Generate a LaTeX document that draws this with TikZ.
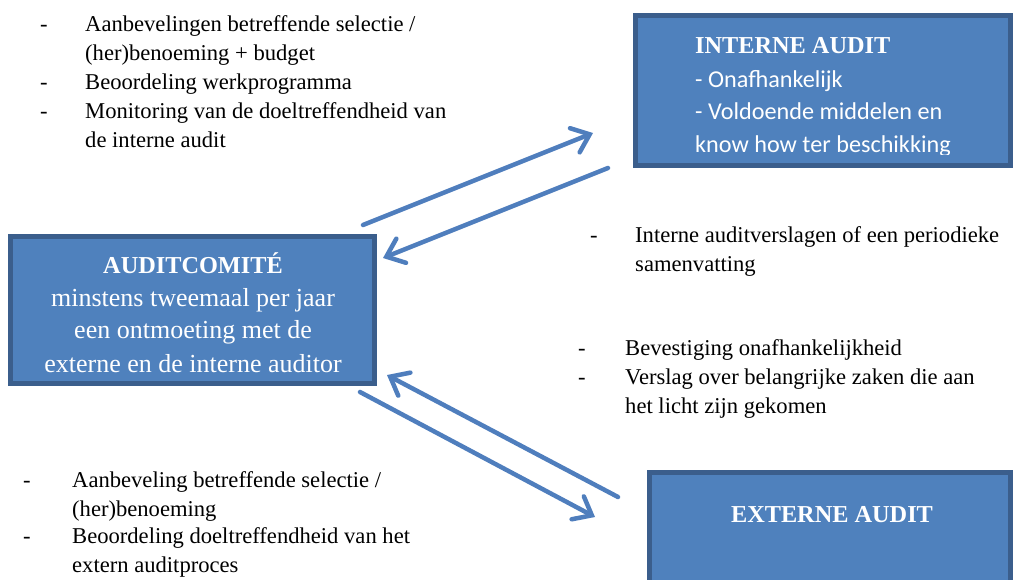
\documentclass[tikz,border=0pt]{standalone}
\usepackage{fontspec}
\setmainfont{Liberation Serif}
\newfontfamily\calfont{Carlito}
\usetikzlibrary{arrows.meta,positioning,calc}
\definecolor{boxfill}{HTML}{4F81BD}
\definecolor{boxline}{HTML}{3B5E8C}
\definecolor{arrowblue}{HTML}{4F7EBD}
\newcommand\lstfont{\fontsize{22.6}{29}\selectfont}
\newcommand\boxtxt{\fontsize{26}{33}\selectfont}
\newcommand\titletxt{\fontsize{24.3}{30}\selectfont\bfseries}
\newcommand\caltxt{\calfont\fontsize{24.2}{32}\selectfont}
\tikzset{
  block/.style={rectangle,draw=boxline,fill=boxfill,line width=5pt,inner sep=0pt},
  boxtitle/.style={inner sep=0pt,text=white,font=\titletxt},
  boxtext/.style={inner sep=0pt,text=white,font=\boxtxt,align=center},
  hyph/.style={anchor=base west,inner sep=0pt,font=\lstfont},
  lst/.style={anchor=base west,inner sep=0pt,font=\lstfont,align=left},
  flow/.style={draw=arrowblue,line width=4.5pt,line cap=round,
    -{Straight Barb[length=16pt,width=26pt,line cap=round]}}
}
\begin{document}
\begin{tikzpicture}[x=1pt,y=-1pt]
  \useasboundingbox (0,0) rectangle (1014,579);

  % blocks
  \node[block,minimum width=364pt,minimum height=147pt] (ac) at (192.5,310) {};
  \node[block,minimum width=375pt,minimum height=150pt] (ia) at (823,90.5) {};
  \node[block,minimum width=361pt,minimum height=125pt] (ea) at (830,535) {};

  % auditcomite
  \node[boxtitle,anchor=base] (act) at (193,273) {AUDITCOMITÉ};
  \node[boxtext,anchor=base] (ac1) at (193,306) {minstens tweemaal per jaar};
  \node[boxtext,anchor=base] (ac2) at (193,338) {een ontmoeting met de};
  \node[boxtext,anchor=base] (ac3) at (193,372) {externe en de interne auditor};

  % interne audit
  \node[boxtitle,anchor=base west] (iat) at (695,53) {INTERNE AUDIT};
  \node[boxtext,anchor=base west,font=\caltxt] (ia1) at (695,87) {- Onafhankelijk};
  \node[boxtext,anchor=base west,font=\caltxt] (ia2) at (695,119) {- Voldoende middelen en};
  \begin{scope}
    \clip (640,20) rectangle (1005,154);
    \node[boxtext,anchor=base west,font=\caltxt] (ia3) at (695,152) {know how ter beschikking};
  \end{scope}

  % externe audit
  \node[boxtitle,anchor=base] (eat) at (832,522) {EXTERNE AUDIT};

  % lists (base = last line)
  \node[hyph] (d1) at (40,31) {-};
  \node[lst] (t1) at (85,60) {Aanbevelingen betreffende selectie /\\(her)benoeming + budget};
  \node[hyph] (d2) at (40,89) {-};
  \node[lst] (t2) at (85,89) {Beoordeling werkprogramma};
  \node[hyph] (d3) at (40,118) {-};
  \node[lst] (t3) at (85,147) {Monitoring van de doeltreffendheid van\\de interne audit};

  \node[hyph] (d4) at (590,242) {-};
  \node[lst] (t4) at (635,271) {Interne auditverslagen of een periodieke\\samenvatting};

  \node[hyph] (d5) at (578,355) {-};
  \node[lst] (t5) at (625,355) {Bevestiging onafhankelijkheid};
  \node[hyph] (d6) at (578,384) {-};
  \node[lst] (t6) at (625,413) {Verslag over belangrijke zaken die aan\\het licht zijn gekomen};

  \node[hyph] (d7) at (23,487) {-};
  \node[lst] (t7) at (72,516) {Aanbeveling betreffende selectie /\\(her)benoeming};
  \node[hyph] (d8) at (23,543) {-};
  \node[lst] (t8) at (72,572) {Beoordeling doeltreffendheid van het\\extern auditproces};

  % arrows
  \coordinate (a1s) at (363,225);
  \coordinate (a1e) at (593,133);
  \coordinate (a2s) at (608,168);
  \coordinate (a2e) at (383,258);
  \coordinate (a3s) at (618,497);
  \coordinate (a3e) at (387,375);
  \coordinate (a4s) at (360,392);
  \coordinate (a4e) at (595,517);
  \draw[flow] (a1s) -- (a1e);
  \draw[flow] (a2s) -- (a2e);
  \draw[flow] (a3s) -- (a3e);
  \draw[flow] (a4s) -- (a4e);
\end{tikzpicture}
\end{document}
